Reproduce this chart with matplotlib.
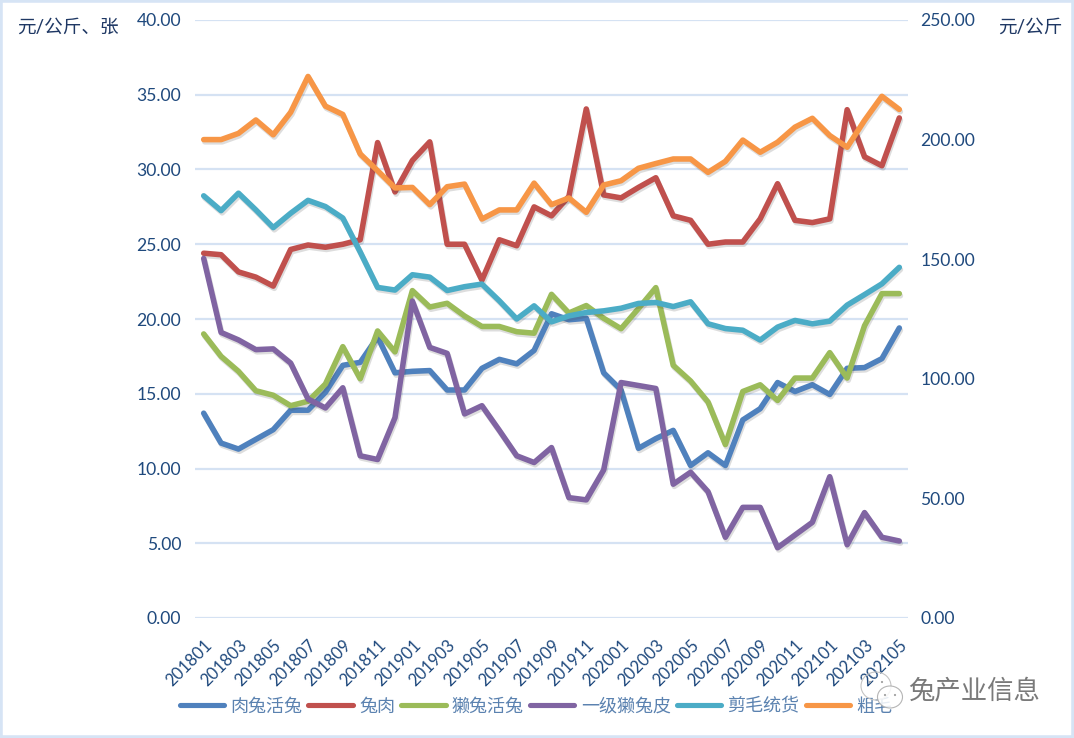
import matplotlib
matplotlib.use("Agg")
import matplotlib.pyplot as plt
import matplotlib.patheffects as pe
from matplotlib.patches import Rectangle, Ellipse

months = [201801,201802,201803,201804,201805,201806,201807,201808,201809,201810,201811,201812,
          201901,201902,201903,201904,201905,201906,201907,201908,201909,201910,201911,201912,
          202001,202002,202003,202004,202005,202006,202007,202008,202009,202010,202011,202012,
          202101,202102,202103,202104,202105]
rou_tu = [13.7,11.7,11.3,11.95,12.6,13.9,13.9,15.1,16.9,17.1,18.8,16.4,16.5,16.55,15.25,15.25,16.7,17.3,17.0,17.9,
          20.35,19.95,20.05,16.4,15.25,11.35,12.0,12.55,10.2,11.05,10.2,13.25,14.0,15.75,15.15,15.6,14.95,16.7,16.75,17.35,19.4]
tu_rou = [24.4,24.3,23.15,22.8,22.2,24.65,24.95,24.8,25.0,25.3,31.8,28.5,30.6,31.85,25.0,25.0,22.6,25.3,24.9,27.5,
          26.9,28.2,34.05,28.3,28.1,28.8,29.45,26.9,26.6,25.0,25.15,25.15,26.7,29.05,26.6,26.45,26.7,34.0,30.85,30.25,33.45]
ta_tu = [19.0,17.5,16.5,15.2,14.9,14.2,14.5,15.65,18.15,16.0,19.2,17.8,21.9,20.8,21.05,20.2,19.5,19.5,19.15,19.05,
         21.65,20.4,20.9,20.05,19.35,20.7,22.1,16.9,15.85,14.45,11.6,15.15,15.6,14.55,16.05,16.05,17.75,16.05,19.55,21.7,21.7]
ta_pi = [24.05,19.1,18.6,17.95,18.0,17.05,14.65,14.05,15.4,10.85,10.6,13.4,21.2,18.1,17.7,13.65,14.2,12.55,10.85,10.4,
         11.4,8.05,7.9,9.9,15.75,15.55,15.35,8.95,9.75,8.45,5.4,7.4,7.4,4.7,5.55,6.4,9.45,4.9,7.05,5.4,5.15]
jian_mao = [176.5,170.3,177.6,170.6,163.2,169.2,174.6,172.0,167.2,153.0,138.2,137.1,143.5,142.5,136.9,138.5,139.6,132.6,125.0,130.5,
            123.8,126.3,127.7,128.4,129.5,131.5,131.9,130.2,132.2,123.0,121.0,120.3,116.2,121.6,124.4,123.0,124.1,130.8,135.2,139.7,146.6]
cu_mao = [200.0,200.0,202.6,208.2,202.0,211.4,226.4,214.0,210.5,194.0,187.0,179.8,180.0,172.8,180.3,181.4,166.8,170.6,170.6,181.8,
          172.8,175.6,169.6,181.0,182.8,188.0,190.0,191.9,191.9,186.3,190.9,199.8,194.7,198.9,205.2,208.9,201.7,196.8,208.0,218.1,212.6]
left_ticks = [0,5,10,15,20,25,30,35,40]
right_ticks = [0,50,100,150,200,250]

W, H = 1074, 738
plt.rcParams['font.family'] = ['Lato', 'Noto Sans CJK SC', 'DejaVu Sans']
fig = plt.figure(figsize=(W/100, H/100), dpi=100, facecolor='white')
ax = fig.add_axes([195/W, 1-618/H, (908-195)/W, (618-20)/H])
ax2 = ax.twinx()
x = list(range(len(months)))
lw = 4.0
shadow = [pe.SimpleLineShadow(offset=(0.8,-1.6), alpha=0.18, shadow_color='#444444'), pe.Normal()]

def draw(a, vals, col, name):
    l, = a.plot(x, vals, color=col, lw=lw, label=name, solid_capstyle='round', solid_joinstyle='round',
                path_effects=shadow)
    return l

hs = [draw(ax, rou_tu, '#4F81BD', '肉兔活兔'),
      draw(ax, tu_rou, '#C0504D', '兔肉'),
      draw(ax, ta_tu, '#9BBB59', '獭兔活兔'),
      draw(ax, ta_pi, '#8064A2', '一级獭兔皮'),
      draw(ax2, jian_mao, '#4BACC6', '剪毛统货'),
      draw(ax2, cu_mao, '#F79646', '粗毛')]

tick_col = '#1F497D'
ax.set_xlim(-0.5, len(months)-0.5)
ax.set_ylim(0, 40)
ax2.set_ylim(0, 250)
ax.set_yticks(left_ticks)
ax.set_yticklabels([f'{v:.2f}' for v in left_ticks], fontsize=12.6, color=tick_col)
ax2.set_yticks(right_ticks)
ax2.set_yticklabels([f'{v:.2f}' for v in right_ticks], fontsize=12.6, color=tick_col)
ax.set_xticks(x[::2])
ax.set_xticklabels([str(m) for m in months[::2]], rotation=45, ha='right', va='top',
                   rotation_mode='anchor', fontsize=12, color=tick_col)
ax.tick_params(axis='y', length=0, pad=10)
ax2.tick_params(axis='y', length=0, pad=9)
ax.tick_params(axis='x', length=0, pad=14)
ax.grid(axis='y', color='#D5E2F3', lw=1.6)
ax.set_axisbelow(True)
for a in (ax, ax2):
    for s in a.spines.values():
        s.set_visible(False)

fig.text(17/W, 1-27/H, '元/公斤、张', fontsize=13.4, color='#1F3864', va='center', ha='left', fontweight='medium')
fig.text(998/W, 1-27/H, '元/公斤', fontsize=13.4, color='#1F3864', va='center', ha='left', fontweight='medium')

leg = fig.legend(handles=hs, ncol=6, loc='center', bbox_to_anchor=(536/W, 1-706/H), frameon=False,
                 fontsize=13, handlelength=2.45, handletextpad=0.35, columnspacing=0.35,
                 labelcolor='#5B82B0', borderpad=0)
for line in leg.get_lines():
    line.set_linewidth(3.7)
    line.set_path_effects([])
    line.set_solid_capstyle('round')

# watermark
fig.text(908/W, 1-691/H, '兔产业信息', fontsize=19, color='#7A7A7A', va='center', ha='left', zorder=10)
def e(cx, cy, w, h, **k):
    fig.add_artist(Ellipse((cx/W, 1-cy/H), w/W, h/H, transform=fig.transFigure, **k))
e(876, 686, 30, 28, fc='none', ec='#C4C4C4', lw=0.8, zorder=9)
e(890, 697, 25, 22, fc='white', ec='#A8A8A8', lw=0.8, alpha=0.85, zorder=9)
for cx, cy in [(870,682),(882,682),(885,695),(895,695)]:
    e(cx, cy, 2.2, 2.2, fc='#A0A0A0', ec='none', zorder=10)

fig.add_artist(Rectangle((0, 0), 1, 1, transform=fig.transFigure, fc='none', ec='#D6E4F5', lw=4))
fig.savefig('out.png', dpi=100)
